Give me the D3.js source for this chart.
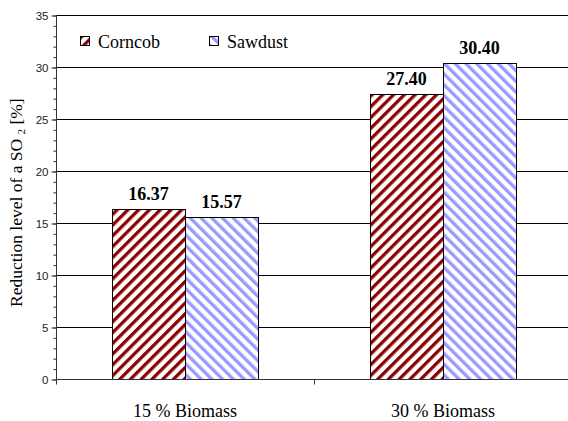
<!DOCTYPE html>
<html>
<head>
<meta charset="utf-8">
<script src="https://cdn.jsdelivr.net/npm/d3@7/dist/d3.min.js"></script>
<style>
  html, body { margin: 0; padding: 0; background: #fff; }
  svg { display: block; }
</style>
</head>
<body>
<svg id="chart" width="568" height="421"></svg>
<script>
// Categories and series
const categories = ["15 % Biomass", "30 % Biomass"];
const seriesNames = ["Corncob", "Sawdust"];
const corncobValues = [16.37, 27.40];
const sawdustValues = [15.57, 30.40];
const yTicks = [0, 5, 10, 15, 20, 25, 30, 35];

const seriesValues = [corncobValues, sawdustValues];
const seriesColors = ["#8b0000", "#9999ff"];
const patternIds = ["hatchCorncob", "hatchSawdust"];
const serif = "'Liberation Serif', 'Times New Roman', Times, serif";

const svg = d3.select("#chart");
const plotLeft = 56, plotRight = 572, plotTop = 15, plotBottom = 379;

// Diagonal hatch fills: "/" for corncob, "\" for sawdust
const defs = svg.append("defs");
[45, -45].forEach((angle, i) => {
  const p = defs.append("pattern")
    .attr("id", patternIds[i])
    .attr("patternUnits", "userSpaceOnUse")
    .attr("width", 7.6).attr("height", 7.6)
    .attr("patternTransform", `rotate(${angle})`);
  p.append("rect").attr("width", 7.6).attr("height", 7.6).attr("fill", "#fff");
  p.append("rect").attr("x", 0).attr("width", 3.3).attr("height", 7.6).attr("fill", seriesColors[i]);
});

const x0 = d3.scaleBand().domain(categories).range([plotLeft, plotRight]);
const x1 = d3.scaleBand().domain(seriesNames).range([0, x0.bandwidth()])
  .paddingInner(0).paddingOuter(0.767);
const y = d3.scaleLinear().domain([0, 35]).range([plotBottom, plotTop]);

// Horizontal gridlines
svg.append("g").selectAll("line")
  .data(yTicks.filter(t => t > 0))
  .join("line")
  .attr("x1", plotLeft).attr("x2", 568)
  .attr("y1", d => Math.round(y(d)) + 0.5).attr("y2", d => Math.round(y(d)) + 0.5)
  .attr("stroke", "#000").attr("stroke-width", 1);

// Bars
const groups = svg.append("g").selectAll("g")
  .data(categories)
  .join("g")
  .attr("transform", d => `translate(${x0(d)},0)`);

groups.selectAll("rect")
  .data((c, ci) => seriesNames.map((s, si) => ({ s, si, v: seriesValues[si][ci] })))
  .join("rect")
  .attr("x", d => Math.round(x1(d.s)) + 0.5)
  .attr("y", d => Math.round(y(d.v)) + 0.5)
  .attr("width", d => Math.round(x1.bandwidth()))
  .attr("height", d => Math.round(y(0)) - Math.round(y(d.v)))
  .attr("fill", d => `url(#${patternIds[d.si]})`)
  .attr("stroke", "#000").attr("stroke-width", 1);

// Value labels
groups.selectAll("text")
  .data((c, ci) => seriesNames.map((s, si) => ({ s, si, v: seriesValues[si][ci] })))
  .join("text")
  .attr("x", d => x1(d.s) + x1.bandwidth() / 2)
  .attr("y", d => y(d.v) - 9)
  .attr("text-anchor", "middle")
  .attr("font-family", serif)
  .attr("font-weight", "bold")
  .attr("font-size", 18)
  .attr("fill", "#000")
  .text(d => d.v.toFixed(2));

// Y axis with minor ticks
const yAxisG = svg.append("g").attr("transform", `translate(${plotLeft + 0.5},0.5)`);
yAxisG.call(d3.axisLeft(y).tickValues(d3.range(0, 36, 1)).tickSize(3).tickFormat(""));
yAxisG.call(g => g.select(".domain").remove());
yAxisG.selectAll(".tick line").attr("stroke", "#333");
const yMajor = svg.append("g").attr("transform", `translate(${plotLeft + 0.5},0.5)`)
  .call(d3.axisLeft(y).tickValues(yTicks).tickSize(5).tickPadding(3).tickFormat(d3.format("d")));
yMajor.select(".domain").remove();
yMajor.selectAll(".tick line").attr("stroke", "#333");
yMajor.selectAll(".tick text")
  .attr("font-family", "'Liberation Sans', Arial, sans-serif")
  .attr("font-size", 11.5).attr("fill", "#222");
svg.append("line")
  .attr("x1", plotLeft + 0.5).attr("x2", plotLeft + 0.5)
  .attr("y1", y(35)).attr("y2", y(0) + 1)
  .attr("stroke", "#333");

// X axis
const xAxisG = svg.append("g").attr("transform", `translate(0,${Math.round(y(0)) + 0.5})`);
xAxisG.append("line").attr("x1", plotLeft).attr("x2", 568).attr("stroke", "#333");
xAxisG.selectAll("line.tk")
  .data([plotLeft, x0(categories[1]), plotRight])
  .join("line").attr("class", "tk")
  .attr("x1", d => Math.round(d) + 0.5).attr("x2", d => Math.round(d) + 0.5)
  .attr("y1", 0).attr("y2", 5).attr("stroke", "#333");
xAxisG.selectAll("text")
  .data(categories)
  .join("text")
  .attr("x", d => x0(d) + x0.bandwidth() / 2)
  .attr("y", 37)
  .attr("text-anchor", "middle")
  .attr("font-family", serif)
  .attr("font-size", 18)
  .attr("fill", "#000")
  .text(d => d);

// Y axis title
const title = svg.append("text")
  .attr("transform", "translate(22,307) rotate(-90)")
  .attr("text-anchor", "start")
  .attr("font-family", serif)
  .attr("font-size", 17.5)
  .attr("fill", "#000");
title.append("tspan").text("Reduction level of a SO ");
title.append("tspan").attr("font-size", 11).attr("dy", 3).text("2");
title.append("tspan").attr("dy", -3).text(" [%]");

// Legend
const legendX = [80, 209];
const legend = svg.append("g").selectAll("g")
  .data(seriesNames)
  .join("g")
  .attr("transform", (d, i) => `translate(${legendX[i]},36)`);
legend.append("rect")
  .attr("x", 0.5).attr("y", 0.5).attr("width", 9).attr("height", 9)
  .attr("fill", (d, i) => `url(#${patternIds[i]})`)
  .attr("stroke", "#000");
legend.append("text")
  .attr("x", 18).attr("y", 12)
  .attr("font-family", serif)
  .attr("font-size", 18)
  .attr("fill", "#000")
  .text(d => d);
</script>
</body>
</html>
